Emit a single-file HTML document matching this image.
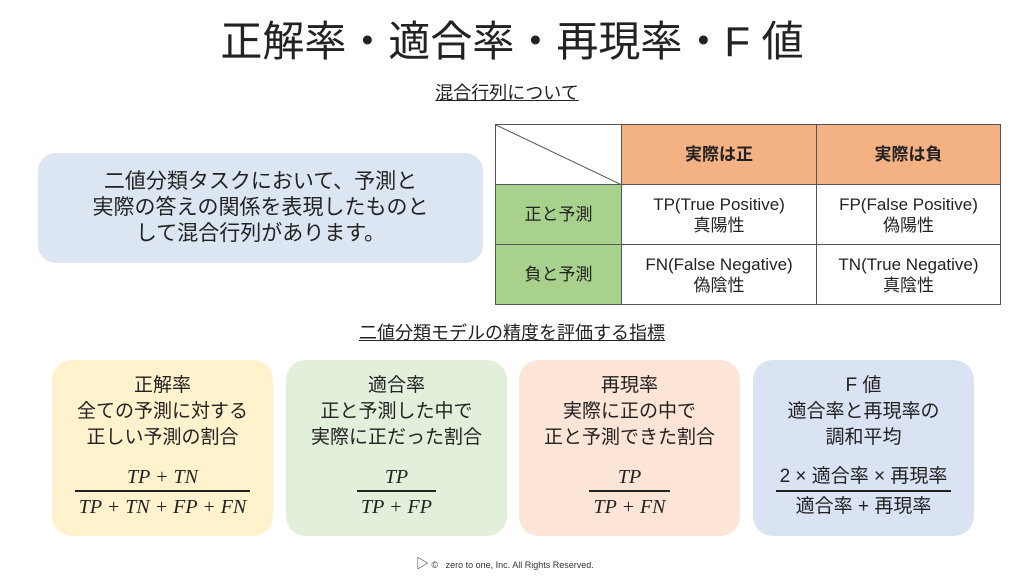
<!DOCTYPE html>
<html><head><meta charset="utf-8"><style>
body{margin:0;width:1024px;height:576px;background:#fff;position:relative;overflow:hidden;font-family:"Liberation Sans","Noto Sans CJK JP",sans-serif;color:#222}
.a{position:absolute}
.t{left:0;width:1024px;text-align:center}
table{border-collapse:collapse;position:absolute;left:495px;top:124px}
td{border:1px solid #555;text-align:center;font-size:17px;line-height:21px;padding:0}
.c{border-radius:20px;top:360px;height:176px;width:221px;text-align:center;font-size:19px;line-height:26px}
.f{display:inline-block;font-family:"Liberation Serif",serif;font-style:italic;font-size:20px;line-height:26px}
.f .n{display:block;padding:0 4px;border-bottom:2px solid #222}
.f .d{display:block;padding:2px 4px 0}
</style></head><body>
<div class="a t" style="top:17px;font-size:42px;line-height:50px">正解率・適合率・再現率・F 値</div>
<div class="a t" style="top:80px;font-size:18px;line-height:26px;left:412px;width:190px;text-decoration:underline">混合行列について</div>
<div class="a" style="left:38px;top:153px;width:445px;height:110px;background:#dbe6f2;border-radius:18px;text-align:center;font-size:21px;line-height:26px;padding-top:16px;box-sizing:border-box">二値分類タスクにおいて、予測と<br>実際の答えの関係を表現したものと<br>して混合行列があります。</div>
<table>
<tr style="height:60px"><td style="width:125px;background:#fff;position:relative"><svg class="a" style="left:0;top:0" width="126" height="60"><line x1="0" y1="0" x2="126" y2="60" stroke="#555"/></svg></td><td style="width:194px;background:#f4b183;font-weight:bold">実際は正</td><td style="width:183px;background:#f4b183;font-weight:bold">実際は負</td></tr>
<tr style="height:60px"><td style="background:#a9d18e">正と予測</td><td>TP(True Positive)<br>真陽性</td><td>FP(False Positive)<br>偽陽性</td></tr>
<tr style="height:60px"><td style="background:#a9d18e">負と予測</td><td>FN(False Negative)<br>偽陰性</td><td>TN(True Negative)<br>真陰性</td></tr>
</table>
<div class="a" style="left:352px;top:320px;width:320px;text-align:center;font-size:18px;line-height:26px;text-decoration:underline">二値分類モデルの精度を評価する指標</div>
<div class="a c" style="left:52px;background:#fff2cc;padding-top:13px;box-sizing:border-box">正解率<br>全ての予測に対する<br>正しい予測の割合<div style="height:13px"></div><div class="f"><span class="n">TP + TN</span><span class="d">TP + TN + FP + FN</span></div></div>
<div class="a c" style="left:286px;background:#e2efda;padding-top:13px;box-sizing:border-box">適合率<br>正と予測した中で<br>実際に正だった割合<div style="height:13px"></div><div class="f"><span class="n">TP</span><span class="d">TP + FP</span></div></div>
<div class="a c" style="left:519px;background:#fce4d6;padding-top:13px;box-sizing:border-box">再現率<br>実際に正の中で<br>正と予測できた割合<div style="height:13px"></div><div class="f"><span class="n">TP</span><span class="d">TP + FN</span></div></div>
<div class="a c" style="left:753px;background:#dae3f3;padding-top:13px;box-sizing:border-box">F 値<br>適合率と再現率の<br>調和平均<div style="height:13px"></div><div class="f" style="font-style:normal;font-family:'Liberation Sans','Noto Sans CJK JP',sans-serif;font-size:19px"><span class="n">2 × 適合率 × 再現率</span><span class="d">適合率 + 再現率</span></div></div>
<div class="a" style="left:416px;top:557px;font-size:9px;line-height:14px;color:#333"><span style="font-size:13px">▷</span> ©&nbsp;&nbsp; zero to one, Inc. All Rights Reserved.</div>
</body></html>
